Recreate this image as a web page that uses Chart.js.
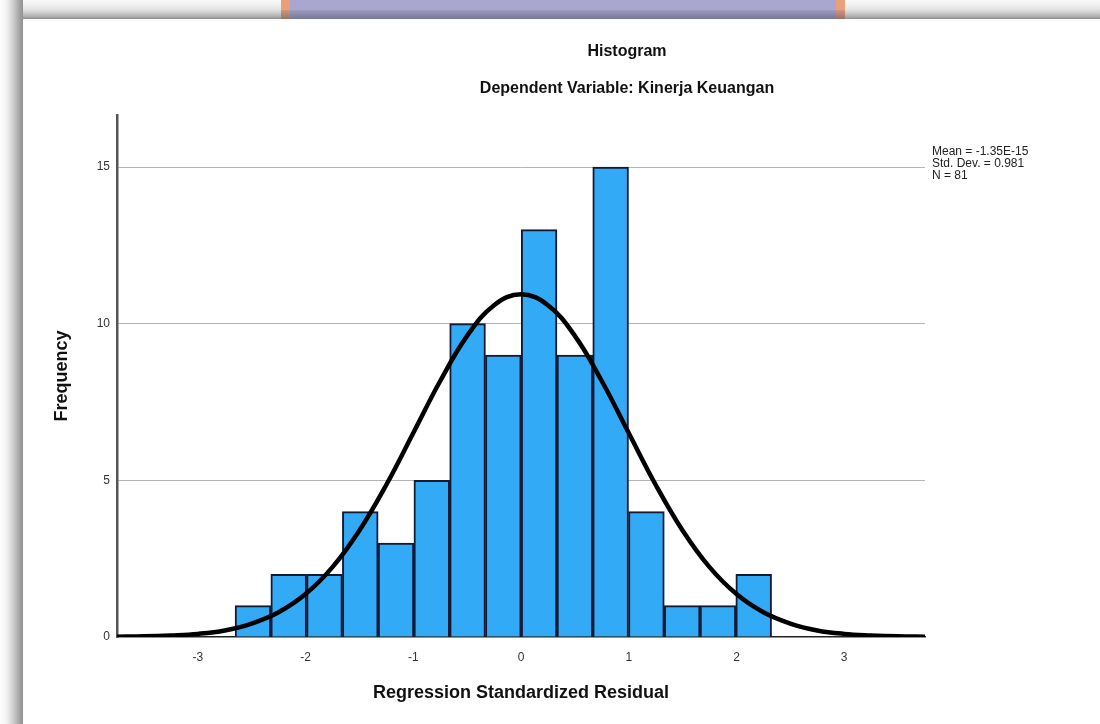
<!DOCTYPE html>
<html>
<head>
<meta charset="utf-8">
<title>Histogram</title>
<script src="https://cdn.jsdelivr.net/npm/chart.js@4.4.1/dist/chart.umd.min.js"></script>
<style>
    body { margin: 0; background: #fff; }
    #wrap { position: relative; width: 1100px; height: 724px; overflow: hidden; }
    .frameTop {
        position: absolute; left: 0; top: 0; width: 1100px; height: 19px;
        background: linear-gradient(to bottom, #fafafa 0, #f0f0f0 5px, #e4e4e4 9px, #cbcbcb 13px, #a9a9a9 17px, #8c8c8c 19px);
    }
    .frameLeft {
        position: absolute; left: 0; top: 0; width: 23px; height: 724px;
        background: linear-gradient(to right, #fdfdfd 0, #f3f3f3 6px, #e0e0e0 10px, #c9c9c9 14px, #a7a7a7 19px, #909090 23px);
    }
    .mark {
        position: absolute; left: 281px; top: 0; width: 564px; height: 19px;
        background: linear-gradient(to right, #e8a07a 0, #e8a07a 9px, #a9a7cf 9px, #a9a7cf 555px, #e8a07a 555px);
    }
    .markShade {
        position: absolute; left: 281px; top: 10px; width: 564px; height: 9px;
        background: linear-gradient(to bottom, rgba(90,90,110,0.15), rgba(60,60,80,0.45));
    }
    canvas { position: absolute; left: 0; top: 0; }
</style>
</head>
<body>
<div id="wrap">
    <div class="frameTop"></div>
    <div class="mark"></div>
    <div class="markShade"></div>
    <div class="frameLeft"></div>
    <canvas id="histChart" width="1100" height="724"></canvas>
</div>
<script>
// Histogram of regression standardized residuals (SPSS output)
const binStart = -2.654;
const binWidth = 0.332;
const binCounts = [1, 2, 2, 4, 3, 5, 10, 9, 13, 9, 15, 4, 1, 1, 2];

// Fitted normal curve
const curveX = [-3.75, -3.5, -3.25, -3, -2.75, -2.5, -2.25, -2, -1.75, -1.5, -1.25, -1, -0.75, -0.5, -0.25, 0,
                0.25, 0.5, 0.75, 1, 1.25, 1.5, 1.75, 2, 2.25, 2.5, 2.75, 3, 3.25, 3.5, 3.75];
const curveY = [0.01, 0.02, 0.05, 0.10, 0.21, 0.43, 0.79, 1.37, 2.23, 3.40, 4.86, 6.51, 8.17, 9.61, 10.59, 10.94,
                10.59, 9.61, 8.17, 6.51, 4.86, 3.40, 2.23, 1.37, 0.79, 0.43, 0.21, 0.10, 0.05, 0.02, 0.01];

const xTicks = [-3, -2, -1, 0, 1, 2, 3];
const yTicks = [0, 5, 10, 15];

const titleLines = ['Histogram', 'Dependent Variable: Kinerja Keuangan'];
const statLines = ['Mean = -1.35E-15', 'Std. Dev. = 0.981', 'N = 81'];

const FONT = "'Liberation Sans', Arial, sans-serif";

const barPoints = binCounts.map((c, i) => ({ x: binStart + (i + 0.5) * binWidth, y: c }));
const curvePoints = curveX.map((x, i) => ({ x: x, y: curveY[i] }));

// titles and the stats box are drawn by hand (SPSS puts them off-centre)
const textPlugin = {
    id: 'spssText',
    afterDraw(chart) {
        const ctx = chart.ctx;
        ctx.save();
        ctx.fillStyle = '#111';
        ctx.textAlign = 'center';
        ctx.textBaseline = 'middle';
        ctx.font = 'bold 16px ' + FONT;
        ctx.fillText(titleLines[0], 627, 52);
        ctx.fillText(titleLines[1], 627, 89);

        ctx.textAlign = 'left';
        ctx.font = '12px ' + FONT;
        ctx.fillStyle = '#222';
        statLines.forEach((s, i) => ctx.fillText(s, 932, 152 + i * 12));
        ctx.restore();
    }
};

const ctx = document.getElementById('histChart').getContext('2d');
const histChart = new Chart(ctx, {
    type: 'bar',
    data: {
        datasets: [{
            type: 'line',
            data: curvePoints,
            borderColor: '#000',
            borderWidth: 4.5,
            pointRadius: 0,
            tension: 0.4,
            fill: false,
            order: 0
        }, {
            type: 'bar',
            data: barPoints,
            backgroundColor: '#33aaf6',
            borderColor: '#141a36',
            borderWidth: 2,
            barPercentage: 1,
            categoryPercentage: 1,
            order: 1
        }]
    },
    options: {
        responsive: false,
        animation: false,
        layout: {
            padding: { left: 23, top: 115, right: 175, bottom: 0 }
        },
        scales: {
            x: {
                type: 'linear',
                min: -3.75,
                max: 3.75,
                offset: false,
                afterBuildTicks: function(scale) {
                    scale.ticks = xTicks.map(v => ({ value: v }));
                },
                afterFit: function(scale) {
                    scale.height = 87;
                },
                grid: { display: false, drawTicks: false },
                border: { display: true, color: '#222', width: 1.5 },
                ticks: {
                    font: { family: FONT, size: 12 },
                    color: '#333',
                    padding: 13,
                    maxRotation: 0
                },
                title: {
                    display: true,
                    text: 'Regression Standardized Residual',
                    font: { family: FONT, size: 18, weight: 'bold' },
                    color: '#111',
                    padding: { top: 0, bottom: 20 }
                }
            },
            y: {
                min: 0,
                max: 16.66,
                afterBuildTicks: function(scale) {
                    scale.ticks = yTicks.map(v => ({ value: v }));
                },
                afterFit: function(scale) {
                    scale.width = 94;
                },
                grid: {
                    drawTicks: false,
                    color: function(c) {
                        return c.tick && c.tick.value === 0 ? 'rgba(0,0,0,0)' : '#b5b5b5';
                    },
                    lineWidth: 1
                },
                border: { display: true, color: '#555', width: 2.5 },
                ticks: {
                    font: { family: FONT, size: 12 },
                    color: '#333',
                    padding: 7
                },
                title: {
                    display: true,
                    text: 'Frequency',
                    font: { family: FONT, size: 18, weight: 'bold' },
                    color: '#111',
                    padding: { top: 28, bottom: 0 }
                }
            }
        },
        plugins: {
            legend: { display: false },
            tooltip: { enabled: false }
        }
    },
    plugins: [textPlugin]
});
</script>
</body>
</html>
